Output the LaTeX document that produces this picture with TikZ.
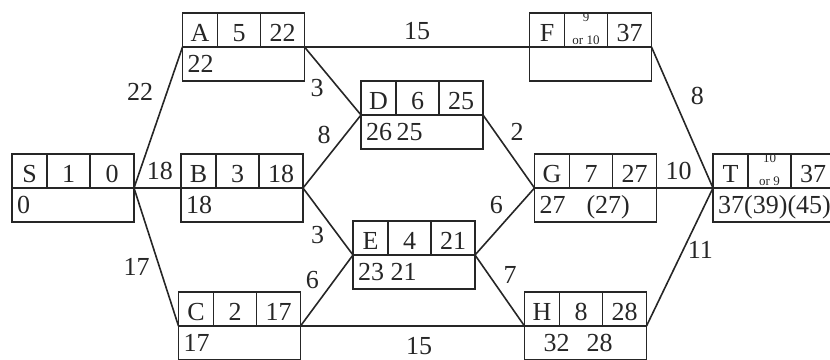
\documentclass[tikz,border=0pt]{standalone}
\usepackage{fontspec}
\setmainfont{Liberation Serif}
\usetikzlibrary{calc}
\definecolor{ink}{HTML}{262626}
\tikzset{
  actbox/.style={draw=ink,line width=1.6pt,minimum width=122pt,minimum height=68pt,
    inner sep=0pt,outer sep=0pt},
  divider/.style={draw=ink,line width=1.6pt},
  cell/.style={anchor=base,inner sep=0pt,text=ink,font=\fontsize{26}{30}\selectfont},
  low/.style={anchor=base west,inner sep=0pt,text=ink,font=\fontsize{26}{30}\selectfont},
  link/.style={draw=ink,line width=1.6pt},
  lbl/.style={text=ink,inner sep=1pt,font=\fontsize{26}{30}\selectfont}
}
% one activity box: name, centre, letter, duration, earliest finish, lower row
\newcommand{\activity}[6]{%
  \node[actbox] (#1) at (#2) {};
  \draw[divider] (#1.west) -- (#1.east);
  \draw[divider] ([xshift=35pt]#1.north west) -- ([xshift=35pt]#1.west);
  \draw[divider] ([xshift=78pt]#1.north west) -- ([xshift=78pt]#1.west);
  \node[cell] (#1-id) at ([shift={(17.5pt,6pt)}]#1.west) {#3};
  \node[cell] (#1-dur) at ([shift={(56.5pt,6pt)}]#1.west) {#4};
  \node[cell] (#1-ef) at ([shift={(100pt,6pt)}]#1.west) {#5};
  \node[low] (#1-lf) at ([shift={(5pt,-25pt)}]#1.west) {#6};
}
\newcommand{\orstack}[2]{\raisebox{-3pt}{\fontsize{13}{23}\selectfont
  \begin{tabular}[b]{@{}c@{}}#1\\#2\end{tabular}}}

\begin{document}
\begin{tikzpicture}[x=1pt,y=-1pt]
  \clip (0,0) rectangle (830,359);

  \activity{S}{73,188}{S}{1}{0}{0}
  \activity{A}{243.5,47}{A}{5}{22}{22}
  \activity{B}{242,188}{B}{3}{18}{18}
  \activity{C}{239.5,326}{C}{2}{17}{17}
  \activity{D}{422,115}{D}{6}{25}{26\,25}
  \activity{E}{414,255}{E}{4}{21}{23 21}
  \activity{F}{590.5,47}{F}{\orstack{9}{or 10}}{37}{}
  \activity{G}{595.5,188}{G}{7}{27}{27\hspace{0.8em}(27)}
  \activity{H}{585.5,326}{H}{8}{28}{\hspace{14pt}32\hspace{17pt}28}
  \activity{T}{774,188}{T}{\orstack{10}{or 9}}{37}{37(39)(45)}

  \draw[link] (S.east) -- node[lbl,pos=.68,left=12pt] {22} (A.west);
  \draw[link] (S.east) -- node[lbl,pos=.55,above=6pt] {18} (B.west);
  \draw[link] (S.east) -- node[lbl,pos=.57,left=8pt] {17} (C.west);
  \draw[link] (A.east) -- node[lbl,pos=.5,above=5pt] {15} (F.west);
  \draw[link] (A.east) -- node[lbl,pos=.6,left=13pt] {3} (D.west);
  \draw[link] (B.east) -- node[lbl,pos=.73,left=13pt] {8} (D.west);
  \draw[link] (B.east) -- node[lbl,pos=.7,left=12pt] {3} (E.west);
  \draw[link] (C.east) -- node[lbl,pos=.65,left=14pt] {6} (E.west);
  \draw[link] (C.east) -- node[lbl,pos=.53,below=10pt] {15} (H.west);
  \draw[link] (D.east) -- node[lbl,pos=.23,right=14pt] {2} (G.west);
  \draw[link] (E.east) -- node[lbl,pos=.75,left=15pt] {6} (G.west);
  \draw[link] (E.east) -- node[lbl,pos=.28,right=13pt] {7} (H.west);
  \draw[link] (F.east) -- node[lbl,pos=.35,right=16pt] {8} (T.west);
  \draw[link] (G.east) -- node[lbl,pos=.39,above=6pt] {10} (T.west);
  \draw[link] (H.east) -- node[lbl,pos=.55,right=3pt] {11} (T.west);
\end{tikzpicture}
\end{document}
